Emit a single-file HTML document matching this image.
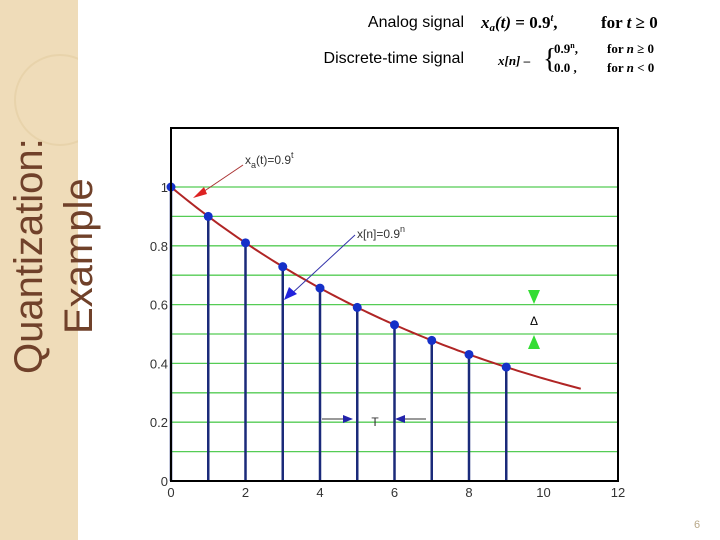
<!DOCTYPE html>
<html><head><meta charset="utf-8"><style>
body{margin:0;width:720px;height:540px;background:#fff;overflow:hidden;font-family:"Liberation Sans",sans-serif;position:relative}
.side{position:absolute;left:0;top:0;width:78px;height:540px;background:#efdcb9}
</style></head><body>
<div class="side"></div>
<svg width="720" height="540" style="position:absolute;left:0;top:0">
<defs><clipPath id="sc"><rect x="0" y="0" width="78" height="540"/></clipPath></defs>
<circle cx="60" cy="100" r="45" fill="none" stroke="#e8d3ab" stroke-width="2" clip-path="url(#sc)"/>
<text transform="translate(42,374) rotate(-90)" font-size="40" fill="#70412a" font-family="Liberation Sans">Quantization:</text>
<text transform="translate(92,334) rotate(-90)" font-size="40" fill="#70412a" font-family="Liberation Sans">Example</text>
<text x="464" y="27" font-size="16" text-anchor="end">Analog signal</text>
<text x="481" y="28" font-size="17" font-weight="bold" font-family="Liberation Serif"><tspan font-style="italic">x<tspan font-size="11" dy="3">a</tspan><tspan dy="-3">(t)</tspan></tspan> = 0.9<tspan font-size="10" dy="-7" font-style="italic">t</tspan><tspan dy="7">,</tspan><tspan x="601">for </tspan><tspan font-style="italic">t</tspan> ≥ 0</text>
<text x="464" y="63" font-size="16" text-anchor="end">Discrete-time signal</text>
<g font-family="Liberation Serif" font-weight="bold" font-size="13">
<text x="498" y="65"><tspan font-style="italic">x[n]</tspan> –</text>
<text x="543" y="68" font-size="28" font-weight="normal">{</text>
<text x="554" y="53">0.9<tspan font-size="8" dy="-5">n</tspan><tspan dy="5">,</tspan></text>
<text x="554" y="72">0.0 ,</text>
<text x="607" y="53">for <tspan font-style="italic">n</tspan> ≥ 0</text>
<text x="607" y="72">for <tspan font-style="italic">n</tspan> &lt; 0</text>
</g>
<g id="grid"></g><g id="curve"></g><g id="stems"></g>
<rect x="171" y="128" width="447" height="353" fill="none" stroke="#000" stroke-width="2"/>
<g id="axes" font-size="13" fill="#333"></g>
<text x="245" y="164" font-size="12" fill="#333">x<tspan font-size="9" dy="4">a</tspan><tspan dy="-4">(t)=0.9</tspan><tspan font-size="9" dy="-6">t</tspan></text>
<line x1="243" y1="165" x2="197" y2="196" stroke="#a33"/>
<polygon points="193,198 204,187 207,194" fill="#d22"/>
<text x="357" y="238" font-size="12" fill="#333">x[n]=0.9<tspan font-size="9" dy="-6">n</tspan></text>
<line x1="355" y1="235" x2="288" y2="297" stroke="#33a"/>
<polygon points="284,300 289,287 297,294" fill="#22d"/>
<polygon points="528,290 540,290 534,304" fill="#3d3"/>
<polygon points="528,349 540,349 534,335" fill="#3d3"/>
<text x="534" y="325" font-size="12" text-anchor="middle">Δ</text>
<line x1="322" y1="419" x2="350" y2="419" stroke="#333"/>
<polygon points="353,419 343,415 343,423" fill="#22a"/>
<line x1="398" y1="419" x2="426" y2="419" stroke="#333"/>
<polygon points="395,419 405,415 405,423" fill="#22a"/>
<text x="375" y="426" font-size="12" text-anchor="middle" fill="#333">T</text>
<text x="697" y="528" font-size="11" fill="#b8a888" text-anchor="middle">6</text>
</svg>
<script>
const nValues=[0,1,2,3,4,5,6,7,8,9];
const xValues=nValues.map(n=>Math.pow(0.9,n));
const curveEnd=11;
const xTicks=["0","2","4","6","8","10","12"];
const yTicks=["0","0.2","0.4","0.6","0.8","1"];
const gridLevels=[0.1,0.2,0.3,0.4,0.5,0.6,0.7,0.8,0.9,1.0];
const X=v=>171+v*(447/12), Y=v=>481-v*294;
const NS="http://www.w3.org/2000/svg";
function mk(t,a,p){const e=document.createElementNS(NS,t);for(const k in a)e.setAttribute(k,a[k]);p.appendChild(e);return e;}
const g=document.getElementById('grid');
gridLevels.forEach(v=>{const l=mk('line',{x1:171,x2:618,y1:Y(v),y2:Y(v),stroke:'#5c5','stroke-width':1.3},g);

});
let d='';for(let t=0;t<=curveEnd;t+=0.1)d+=(t?'L':'M')+X(t)+','+Y(Math.pow(0.9,t));
const c=mk('path',{d:d,fill:'none',stroke:'#b02525','stroke-width':2},document.getElementById('curve'));


const s=document.getElementById('stems');
nValues.forEach((n,i)=>{const l=mk('line',{x1:X(n),x2:X(n),y1:Y(0),y2:Y(xValues[i]),stroke:'#1a2a7a','stroke-width':2.5},s);


const p=mk('circle',{cx:X(n),cy:Y(xValues[i]),r:4.5,fill:'#1530c8'},s);

});
const ax=document.getElementById('axes');
xTicks.forEach(t=>{const e=mk('text',{x:X(+t),y:497,'text-anchor':'middle'},ax);e.textContent=t;

});
yTicks.forEach(t=>{const e=mk('text',{x:168,y:Y(+t)+5,'text-anchor':'end'},ax);e.textContent=t;

});
</script>
</body></html>
